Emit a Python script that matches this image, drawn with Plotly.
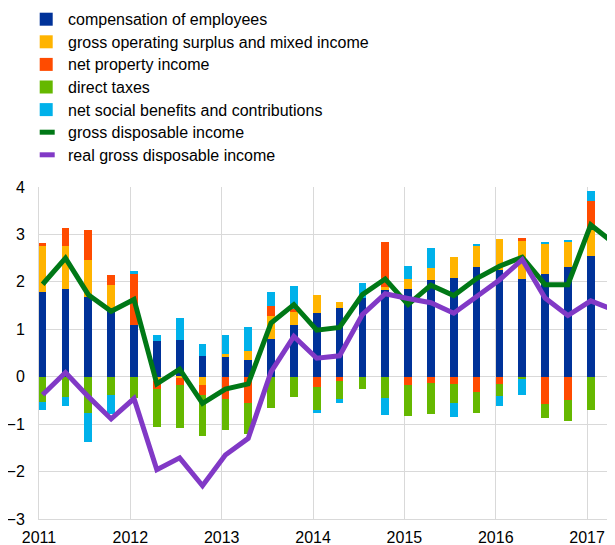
import plotly.graph_objects as go

quarters = ["2011Q1","2011Q2","2011Q3","2011Q4","2012Q1","2012Q2","2012Q3","2012Q4",
            "2013Q1","2013Q2","2013Q3","2013Q4","2014Q1","2014Q2","2014Q3","2014Q4",
            "2015Q1","2015Q2","2015Q3","2015Q4","2016Q1","2016Q2","2016Q3","2016Q4",
            "2017Q1","2017Q2"]

compensation = [1.78, 1.85, 1.68, 1.44, 1.09, 0.75, 0.77, 0.43, 0.42, 0.35, 0.80, 1.09, 1.34,
                1.44, 1.66, 1.82, 1.85, 2.03, 2.08, 2.31, 2.26, 2.05, 2.17, 2.31, 2.54, 2.58]
gross_operating = [0.97, 0.90, 0.78, 0.50, 0.00, -0.10, -0.02, -0.17, 0.06, 0.20, 0.49, 0.27, 0.39,
                   0.14, 0.00, 0.07, 0.21, 0.27, 0.45, 0.44, 0.65, 0.82, 0.63, 0.53, 0.57, 0.53]
net_property = [0.07, 0.38, 0.63, 0.21, 1.07, -0.15, -0.15, -0.22, -0.46, -0.56, 0.20, 0.06, -0.22,
                -0.10, 0.00, 0.96, -0.17, -0.13, -0.15, -0.32, -0.15, 0.05, -0.58, -0.50, 0.60, 0.15]
direct_taxes = [-0.54, -0.43, -0.77, -0.38, -0.45, -0.80, -0.91, -0.87, -0.67, -0.64, -0.66, -0.42, -0.48,
                -0.37, -0.25, -0.44, -0.65, -0.66, -0.41, -0.45, -0.25, -0.05, -0.29, -0.44, -0.71, -0.12]
net_social = [-0.17, -0.18, -0.60, -0.41, 0.06, 0.13, 0.46, 0.26, 0.39, 0.50, 0.29, 0.50, -0.07,
              -0.09, 0.31, -0.36, 0.28, 0.42, -0.29, 0.05, -0.21, -0.33, 0.02, 0.05, 0.21, -0.33]
gross_disposable = [1.95, 2.50, 1.73, 1.38, 1.63, -0.15, 0.16, -0.56, -0.26, -0.15, 1.13, 1.52, 0.98,
                    1.04, 1.73, 2.06, 1.52, 1.93, 1.71, 2.07, 2.33, 2.52, 1.94, 1.94, 3.20, 2.82]
real_gross_disposable = [-0.38, 0.09, -0.42, -0.89, -0.46, -1.96, -1.71, -2.30, -1.65, -1.30, 0.10, 0.85, 0.39,
                         0.44, 1.31, 1.75, 1.65, 1.56, 1.34, 1.68, 2.04, 2.47, 1.66, 1.29, 1.60, 1.41]

year_ticks = [2011, 2012, 2013, 2014, 2015, 2016, 2017]

# position of each quarter on a fractional-year axis (bars sit slightly after quarter start)
x = [int(q[:4]) + (int(q[5]) - 1) * 0.25 + 0.04 for q in quarters]

bar_series = [
    ("compensation of employees", compensation, "#003299"),
    ("gross operating surplus and mixed income", gross_operating, "#FFB400"),
    ("net property income", net_property, "#FF4B00"),
    ("direct taxes", direct_taxes, "#65B800"),
    ("net social benefits and contributions", net_social, "#00B1EA"),
]
line_series = [
    ("gross disposable income", gross_disposable, "#007816"),
    ("real gross disposable income", real_gross_disposable, "#8139C6"),
]

fig = go.Figure()
for name, vals, col in bar_series:
    fig.add_trace(go.Bar(x=x, y=vals, name=name, width=0.084,
                         marker=dict(color=col, line=dict(width=0)),
                         showlegend=False))
for name, vals, col in line_series:
    fig.add_trace(go.Scatter(x=x, y=vals, mode="lines", name=name,
                             line=dict(color=col, width=5),
                             showlegend=False))

# ---- figure geometry (page has an 8px body margin) ----
OFF = 8
W, H = 615 - OFF, 545 - OFF
ML, MR, MT, MB = 39.3 - OFF, 0, 187.3 - OFF, 25.7
pw, ph = W - ML - MR, H - MT - MB


def px_x(p):
    # p: page pixel -> paper coordinate
    return (p - OFF - ML) / pw


def px_y(p):
    return (H - MB - (p - OFF)) / ph


font = "Liberation Sans, Arial, sans-serif"
shapes = []
annotations = []
legend_items = [(n, c, "box") for n, _, c in bar_series] + [(n, c, "line") for n, _, c in line_series]
for i, (name, col, kind) in enumerate(legend_items):
    cy = 19.5 + i * 22.6
    if kind == "box":
        shapes.append(dict(type="rect", xref="paper", yref="paper",
                           x0=px_x(40), x1=px_x(53), y0=px_y(cy + 6.5), y1=px_y(cy - 6.5),
                           fillcolor=col, line=dict(width=0), layer="above"))
    else:
        shapes.append(dict(type="line", xref="paper", yref="paper",
                           x0=px_x(40), x1=px_x(55), y0=px_y(cy), y1=px_y(cy),
                           line=dict(color=col, width=5), layer="above"))
    annotations.append(dict(text=name, xref="paper", yref="paper",
                            x=px_x(66), y=px_y(cy + 0.5), xanchor="left", yanchor="middle",
                            showarrow=False, font=dict(family=font, size=16, color="#000000")))

fig.update_layout(
    width=W, height=H,
    margin=dict(l=ML, r=MR, t=MT, b=MB, autoexpand=False),
    barmode="relative",
    bargap=0,
    template="none",
    plot_bgcolor="white", paper_bgcolor="white",
    font=dict(family=font, size=16, color="#000000"),
    showlegend=False,
    shapes=shapes,
    annotations=annotations,
    xaxis=dict(range=[2011, 2011 + pw / 91.3], tickmode="array",
               tickvals=year_ticks, ticktext=[str(y) for y in year_ticks],
               showgrid=True, gridcolor="#d9d9d9", gridwidth=1,
               zeroline=False, showline=True, linecolor="#d9d9d9", linewidth=1,
               ticks="outside", ticklen=4, tickcolor="rgba(0,0,0,0)",
               automargin=False,
               tickfont=dict(family=font, size=16, color="#000000")),
    yaxis=dict(range=[-3, 4], dtick=1, tick0=0,
               showgrid=True, gridcolor="#d9d9d9", gridwidth=1,
               zeroline=True, zerolinecolor="#d9d9d9", zerolinewidth=1,
               showline=True, linecolor="#d9d9d9", linewidth=1,
               ticks="outside", ticklen=10, tickcolor="rgba(0,0,0,0)",
               automargin=False,
               tickfont=dict(family=font, size=16, color="#000000")),
)

fig.write_html("out.html")
